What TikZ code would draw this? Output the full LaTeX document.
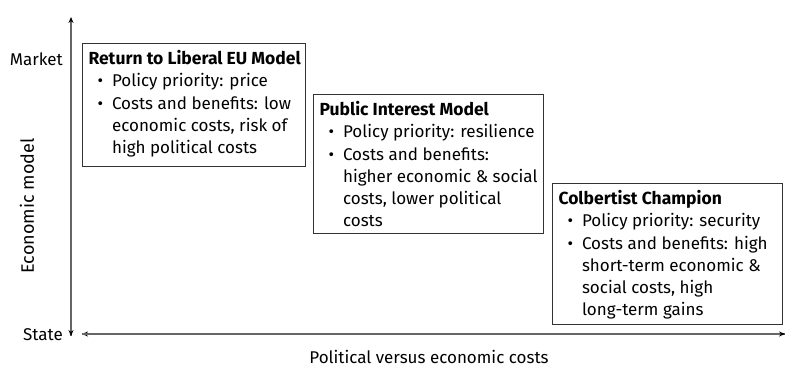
\documentclass[tikz,border=0pt]{standalone}
\usepackage{fontspec}
\setmainfont{Fira Sans}
\usetikzlibrary{arrows.meta}
\begin{document}
\begin{tikzpicture}[x=1pt,y=1pt,
  box/.style={draw=black!80, line width=1.1pt, anchor=north west, inner sep=0pt, font=\fontsize{17}{22.2}\selectfont},
  lbl/.style={font=\fontsize{17}{20}\selectfont, inner sep=0pt},
  ax/.style={line width=1.1pt, draw=black!60, -{Stealth[length=6pt,width=5pt,color=black]}}
]
\useasboundingbox (0,0) rectangle (792,367);
\newcommand{\bl}{\hspace*{9pt}\makebox[14.5pt][l]{\textbullet}}
\newcommand{\cl}{\hspace*{23.5pt}}
\newcommand{\ttl}[1]{{\fontsize{17.5}{22.2}\selectfont\bfseries #1}}
\newcommand{\boxtext}[3]{\parbox[c][#2][t]{#1}{\vspace*{7pt}\leftskip=6pt\parindent=0pt #3}}
% axes
\coordinate (vtop) at (71,350);
\coordinate (vbot) at (71,31);
\coordinate (hl) at (82,33);
\coordinate (hr) at (785,33);
\draw[ax] (vbot) -- (vtop);
\draw[ax] (71,40) -- (vbot);
\draw[ax] (hr) -- (hl);
\draw[ax] (hl) -- (hr);
\node[lbl, anchor=base east] (market) at (63,301) {Market};
\node[lbl, anchor=base east] (state) at (63,27) {State};
\node[lbl, rotate=90, font=\fontsize{18}{20}\selectfont] (econ) at (27,161) {Economic model};
\node[lbl, anchor=base] (pol) at (429,4) {Political versus economic costs};
% boxes
\node[box] (b1) at (82,324) {\boxtext{223pt}{123pt}{\ttl{Return to Liberal EU Model}\\
\bl Policy priority: price\\
\bl Costs and benefits: low\\
\cl economic costs, risk of\\
\cl high political costs}};
\node[box] (b2) at (313,273) {\boxtext{230pt}{139pt}{\ttl{Public Interest Model}\\
\bl Policy priority: resilience\\
\bl Costs and benefits:\\
\cl higher economic \& social\\
\cl costs, lower political\\
\cl costs}};
\node[box] (b3) at (552,184) {\boxtext{230pt}{141pt}{\ttl{Colbertist Champion}\\
\bl Policy priority: security\\
\bl Costs and benefits: high\\
\cl short-term economic \&\\
\cl social costs, high\\
\cl long-term gains}};
\end{tikzpicture}
\end{document}
